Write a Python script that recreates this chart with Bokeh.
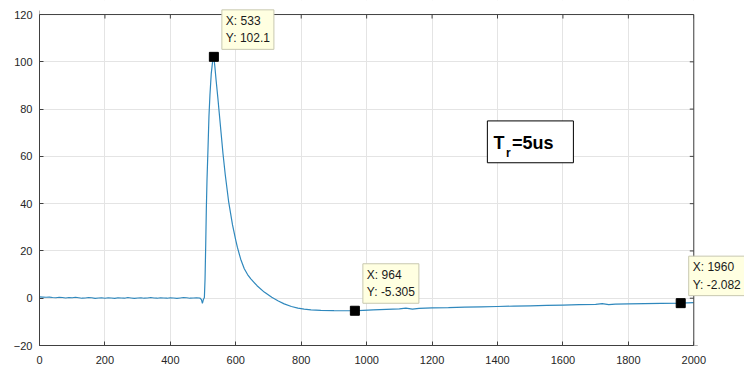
import math
from bokeh.plotting import figure
from bokeh.models import Label, BoxAnnotation, Range1d
from bokeh.embed import file_html
from bokeh.resources import INLINE

# ---- data ----
time_x = [0, 10, 20, 30, 40, 50, 60, 70, 80, 90,
          100, 110, 120, 130, 140, 150, 160, 170, 180, 190,
          200, 210, 220, 230, 240, 250, 260, 270, 280, 290,
          300, 310, 320, 330, 340, 350, 360, 370, 380, 390,
          400, 410, 420, 430, 440, 450, 460, 470, 480, 490,
          495, 498, 501, 504, 506, 508, 510, 512, 515, 518, 521, 525, 529,
          533, 536, 540, 545, 549, 555, 561, 568, 578, 590, 600, 605, 615,
          626, 636, 646, 665, 687, 710, 730, 748, 770, 790, 809, 830, 860,
          900, 930, 964, 990, 1020, 1060, 1100, 1120, 1140, 1160, 1200,
          1250, 1300, 1350, 1400, 1450, 1500, 1550, 1600, 1650, 1700,
          1720, 1740, 1760, 1800, 1850, 1900, 1960, 2000]
signal_y = [0.6, 0.5, 0.4, 0.5, 0.3, 0.2, 0.4, 0.3, 0.1, 0.3,
            0.2, 0.4, 0.2, 0.0, 0.1, 0.3, 0.2, -0.1, 0.1, 0.2,
            0.0, 0.2, 0.1, -0.1, 0.2, 0.1, 0.0, 0.3, 0.1, -0.1,
            0.1, 0.2, 0.0, 0.1, 0.3, 0.1, 0.0, 0.2, 0.1, 0.0,
            0.2, 0.1, -0.1, 0.1, 0.3, 0.2, 0.0, 0.1, 0.2, 0.1,
            -0.6, -2.2, -0.5, 0.3, 8.0, 22.0, 38.0, 50.0, 63.0, 77.0, 86.0, 95.0, 100.0,
            102.1, 98.0, 92.0, 85.0, 79.0, 70.0, 61.0, 52.0, 41.0, 31.0, 24.5, 21.5, 16.5,
            12.5, 10.0, 8.2, 5.3, 2.6, 0.4, -1.2, -2.4, -3.5, -4.2, -4.6, -4.9, -5.1,
            -5.25, -5.3, -5.305, -5.1, -4.9, -4.7, -4.5, -4.2, -4.6, -4.3, -4.1,
            -4.0, -3.8, -3.65, -3.5, -3.35, -3.2, -3.05, -2.9, -2.75, -2.6,
            -2.3, -2.7, -2.5, -2.4, -2.3, -2.2, -2.082, -1.9]
tip_x = [533, 964, 1960]
tip_y = [102.1, -5.305, -2.082]
x_ticks = [0, 200, 400, 600, 800, 1000, 1200, 1400, 1600, 1800, 2000]
y_ticks = [-20, 0, 20, 40, 60, 80, 100, 120]
note_parts = ["T", "r", "=5us"]

FONT = "Liberation Sans"
AX = "#404040"
X0, X1 = x_ticks[0], x_ticks[-1]
Y0, Y1 = y_ticks[0], y_ticks[-1]

# the frame is extended to the right and top so that data tips may overhang the axes box
p = figure(width=744, height=368, x_range=Range1d(X0, 2155), y_range=Range1d(Y0, 125.94),
           output_backend="svg", toolbar_location=None,
           min_border_left=39, min_border_right=0, min_border_top=0, min_border_bottom=23)
p.outline_line_color = None
p.background_fill_color = "white"
p.border_fill_color = "white"

for ax, ticks, bnds in ((p.xaxis[0], x_ticks, (X0, X1)), (p.yaxis[0], y_ticks, (Y0, Y1))):
    ax.ticker = ticks
    ax.bounds = bnds
    ax.major_tick_in = 4
    ax.major_tick_out = 0
    ax.minor_tick_line_color = None
    ax.axis_line_color = AX
    ax.major_tick_line_color = AX
    ax.major_label_text_font = FONT
    ax.major_label_text_font_size = "11px"
    ax.major_label_text_color = "#262626"
p.xaxis.major_label_standoff = 10
p.yaxis.major_label_standoff = 7

p.xgrid.ticker = x_ticks
p.ygrid.ticker = y_ticks
p.xgrid.grid_line_color = "#e4e4e4"
p.ygrid.grid_line_color = "#e4e4e4"

p.line(time_x, signal_y, line_color="#2f88bd", line_width=1.2)

# inward ticks on the top and right sides of the box
p.scatter(x_ticks, [Y1] * len(x_ticks), marker="dash", size=8, angle=math.pi / 2,
          line_color=AX, line_width=1)
p.scatter([X1] * len(y_ticks), y_ticks, marker="dash", size=8, angle=0,
          line_color=AX, line_width=1)

# blank out the extension of the frame outside the axes box
p.add_layout(BoxAnnotation(left=X1, fill_color="white", fill_alpha=1.0, line_alpha=0))
p.add_layout(BoxAnnotation(bottom=Y1, fill_color="white", fill_alpha=1.0, line_alpha=0))
# the axes box
p.add_layout(BoxAnnotation(left=X0, right=X1, bottom=Y0, top=Y1, fill_alpha=0,
                           line_color=AX, line_width=1, line_alpha=1.0))

p.scatter(tip_x, tip_y, marker="square", size=9, fill_color="black", line_color="black")

for tx, ty in zip(tip_x, tip_y):
    p.add_layout(Label(x=tx, y=ty, x_offset=8, y_offset=47,
                       text=f"X: {tx:g}\nY: {ty:g}", text_align="left", text_baseline="top",
                       text_font=FONT, text_font_size="12px", text_color="#1a1a1a",
                       text_line_height=1.25, padding=4,
                       background_fill_color="#ffffe1", background_fill_alpha=1.0,
                       border_line_color="#c8c8b0", border_line_width=1))

# T_r = 5us text box
p.add_layout(BoxAnnotation(left=1369, right=1632, bottom=57.3, top=75.0,
                           fill_color="white", fill_alpha=1.0,
                           line_color="black", line_width=1, line_alpha=1.0))
p.add_layout(Label(x=1388, y=65.7, text=note_parts[0], text_font=FONT, text_font_style="bold",
                   text_font_size="18px", text_color="black", text_baseline="alphabetic"))
p.add_layout(Label(x=1426, y=61.5, text=note_parts[1], text_font=FONT, text_font_style="bold",
                   text_font_size="12px", text_color="black", text_baseline="alphabetic"))
p.add_layout(Label(x=1444, y=65.7, text=note_parts[2], text_font=FONT, text_font_style="bold",
                   text_font_size="18px", text_color="black", text_baseline="alphabetic"))

open("out.html", "w").write(file_html(p, INLINE))
